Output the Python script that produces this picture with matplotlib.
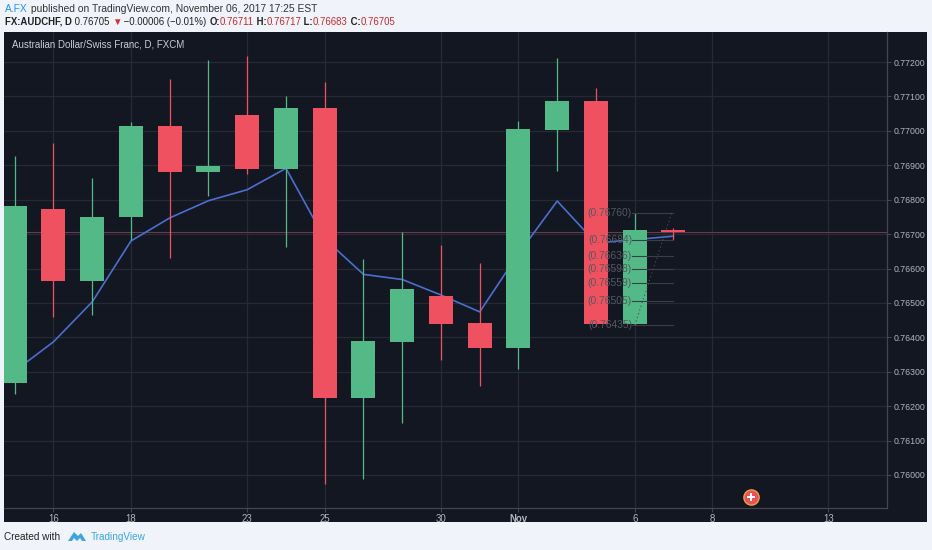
import numpy as np
import pandas as pd
import matplotlib
matplotlib.use('Agg')
import matplotlib.pyplot as plt
from matplotlib.patches import Rectangle, Polygon
import matplotlib.transforms as mtransforms

plt.rcParams['font.family'] = ['Liberation Sans', 'DejaVu Sans']

# trading days shown on the axis (data ends Nov 7, axis runs on to Nov 14)
days = pd.bdate_range('2017-10-13', '2017-11-14')

opens = [0.76268, 0.76772, 0.76564, 0.76749, 0.77014, 0.76881, 0.77047, 0.76889, 0.77065,
         0.76225, 0.76387, 0.76520, 0.76442, 0.76368, 0.77002, 0.77086, 0.76438, 0.76711]
highs = [0.76927, 0.76965, 0.76864, 0.77027, 0.77150, 0.77206, 0.77218, 0.77101, 0.77141,
         0.76629, 0.76705, 0.76668, 0.76617, 0.77028, 0.77212, 0.77125, 0.76760, 0.76717]
lows = [0.76235, 0.76460, 0.76464, 0.76683, 0.76631, 0.76811, 0.76874, 0.76663, 0.75975,
        0.75988, 0.76150, 0.76334, 0.76258, 0.76308, 0.76884, 0.76432, 0.76435, 0.76683]
closes = [0.76782, 0.76564, 0.76750, 0.77014, 0.76881, 0.76898, 0.76889, 0.77065, 0.76225,
          0.76389, 0.76540, 0.76440, 0.76368, 0.77004, 0.77086, 0.76438, 0.76711, 0.76705]
ma = [0.76302, 0.76387, 0.76503, 0.76680, 0.76747, 0.76797, 0.76829, 0.76891, 0.76686,
      0.76583, 0.76568, 0.76523, 0.76474, 0.76643, 0.76796, 0.76674, 0.76684, 0.76694]

last_price = 0.76705
fib_levels = [0.76760, 0.76684, 0.76636, 0.76598, 0.76559, 0.76505, 0.76435]
fib_start = '2017-11-06'
fib_end = '2017-11-07'
event_day = '2017-11-09'

tick_dates = ['2017-10-16', '2017-10-18', '2017-10-23', '2017-10-25', '2017-10-30',
              '2017-11-01', '2017-11-06', '2017-11-08', '2017-11-13']
tick_labels = ['16', '18', '23', '25', '30', 'Nov', '6', '8', '13']
price_ticks = [0.760, 0.761, 0.762, 0.763, 0.764, 0.765, 0.766, 0.767, 0.768, 0.769, 0.770, 0.771, 0.772]

BG = '#131722'
GRID = '#262a35'
GREEN = '#53b987'
RED = '#ef5160'
AXCOL = '#b2b5be'

W, H = 932, 550
fig = plt.figure(figsize=(W / 100, H / 100), dpi=100, facecolor='#f0f3fa')


def fx(x):
    return x / W


def fy(y):
    return 1 - y / H


# dark chart pane behind the axes
pane = Rectangle((fx(4), fy(522)), fx(923), 490 / H, transform=fig.transFigure,
                 facecolor=BG, edgecolor='none', zorder=-10)
fig.add_artist(pane)

ax = fig.add_axes([fx(4), fy(508), fx(883), 476 / H])
ax.set_facecolor(BG)

idx = {d.strftime('%Y-%m-%d'): i for i, d in enumerate(days)}
x = np.arange(len(opens))
o, h, l, c = map(np.array, (opens, highs, lows, closes))
up = c >= o
cols = np.where(up, GREEN, RED)

ax.plot(x, ma, color='#4a6fcf', lw=1.2, zorder=2)
ax.vlines(x, l, h, colors=cols, lw=0.9, zorder=3)
ax.bar(x, np.maximum(np.abs(c - o), 0.00002), bottom=np.minimum(o, c), width=0.62,
       color=cols, zorder=4)

ax.axhline(last_price, color='#6e3a4a', lw=0.8, zorder=1)

# fibonacci retracement drawing
fs, fe = idx[fib_start], idx[fib_end]
for lv in fib_levels:
    ax.plot([fs - 0.08, fe], [lv, lv], color='#3b3e47', lw=0.8, zorder=5)
    ax.text(fs - 0.07, lv, '(%.5f)' % lv, color='#55585f', fontsize=7.4, ha='right',
            va='center', zorder=5)
ax.plot([fs, fe - 0.05], [fib_levels[-1], fib_levels[0]], color='#4e525c', lw=0.8,
        ls=(0, (1, 2.5)), zorder=5)

# economic event marker at the bottom
trans = mtransforms.blended_transform_factory(ax.transData, ax.transAxes)
ev = idx[event_day]
ax.scatter([ev], [0.023], s=120, color='#e8505b', edgecolors='#e9a23b', linewidths=1.0,
           transform=trans, zorder=6, clip_on=False)
ax.scatter([ev], [0.023], s=26, marker='P', color='white', transform=trans, zorder=7,
           clip_on=False, linewidths=0)

ax.set_xlim(-0.277, 22.51)
ax.set_ylim(0.759041, 0.772872)

ax.yaxis.tick_right()
ax.set_yticks(price_ticks)
ax.set_yticklabels(['%.5f' % p for p in price_ticks])
ax.set_xticks([idx[d] for d in tick_dates])
ax.set_xticklabels(tick_labels)
for t in ax.get_xticklabels():
    if t.get_text() == 'Nov':
        t.set_fontweight('bold')
        t.set_color('#e0e3eb')
ax.tick_params(axis='y', colors=AXCOL, labelsize=6.3, length=3, pad=2, width=0.8)
ax.tick_params(axis='x', colors=AXCOL, labelsize=6.9, length=3, pad=1.5, width=0.8)
ax.tick_params(axis='both', which='both', color='#434651')
ax.grid(True, color=GRID, lw=0.9)
ax.set_axisbelow(True)
for s in ('left', 'top'):
    ax.spines[s].set_visible(False)
for s in ('right', 'bottom'):
    ax.spines[s].set_color('#434651')
    ax.spines[s].set_linewidth(0.9)

ax.text(0.0085, 0.973, 'Australian Dollar/Swiss Franc, D, FXCM', transform=ax.transAxes,
        color='#c9ccd4', fontsize=7, ha='left', va='center')

# header lines, drawn piece by piece
renderer = fig.canvas.get_renderer()


def line_parts(x0, y0, parts, size):
    xp = x0
    for s, col, wt in parts:
        t = fig.text(fx(xp), fy(y0), s, color=col, fontweight=wt, fontsize=size,
                     ha='left', va='center')
        bb = t.get_window_extent(renderer)
        xp = bb.x1


DARK = '#222222'
VAL = '#c62828'
line_parts(5, 8.5, [('A.FX', '#2196f3', 'normal'),
                    (' published on TradingView.com, November 06, 2017 17:25 EST', '#333333', 'normal')], 7.4)
line_parts(5, 22, [('FX:AUDCHF, D', DARK, 'bold'), (' 0.76705 ', DARK, 'normal'),
                   ('\u25bc', '#d32f2f', 'normal'), (' \u22120.00006 (\u22120.01%) ', DARK, 'normal'),
                   ('O:', DARK, 'bold'), ('0.76711', VAL, 'normal'), (' H:', DARK, 'bold'),
                   ('0.76717', VAL, 'normal'), (' L:', DARK, 'bold'), ('0.76683', VAL, 'normal'),
                   (' C:', DARK, 'bold'), ('0.76705', VAL, 'normal')], 6.9)

# footer
fig.text(fx(4), fy(537), 'Created with', color='#222222', fontsize=7.2, ha='left', va='center')
logo = [(68, 541), (74, 532), (78, 536), (81, 533), (86, 541), (82, 541), (80, 538),
        (77, 541), (74, 538), (72, 541)]
fig.add_artist(Polygon([(fx(a), fy(b)) for a, b in logo], closed=True,
                       transform=fig.transFigure, facecolor='#3aa6dd', edgecolor='none'))
fig.text(fx(91), fy(537), 'TradingView', color='#3aa6dd', fontsize=7.2, ha='left', va='center')

fig.savefig('out.png', dpi=100, facecolor=fig.get_facecolor())
